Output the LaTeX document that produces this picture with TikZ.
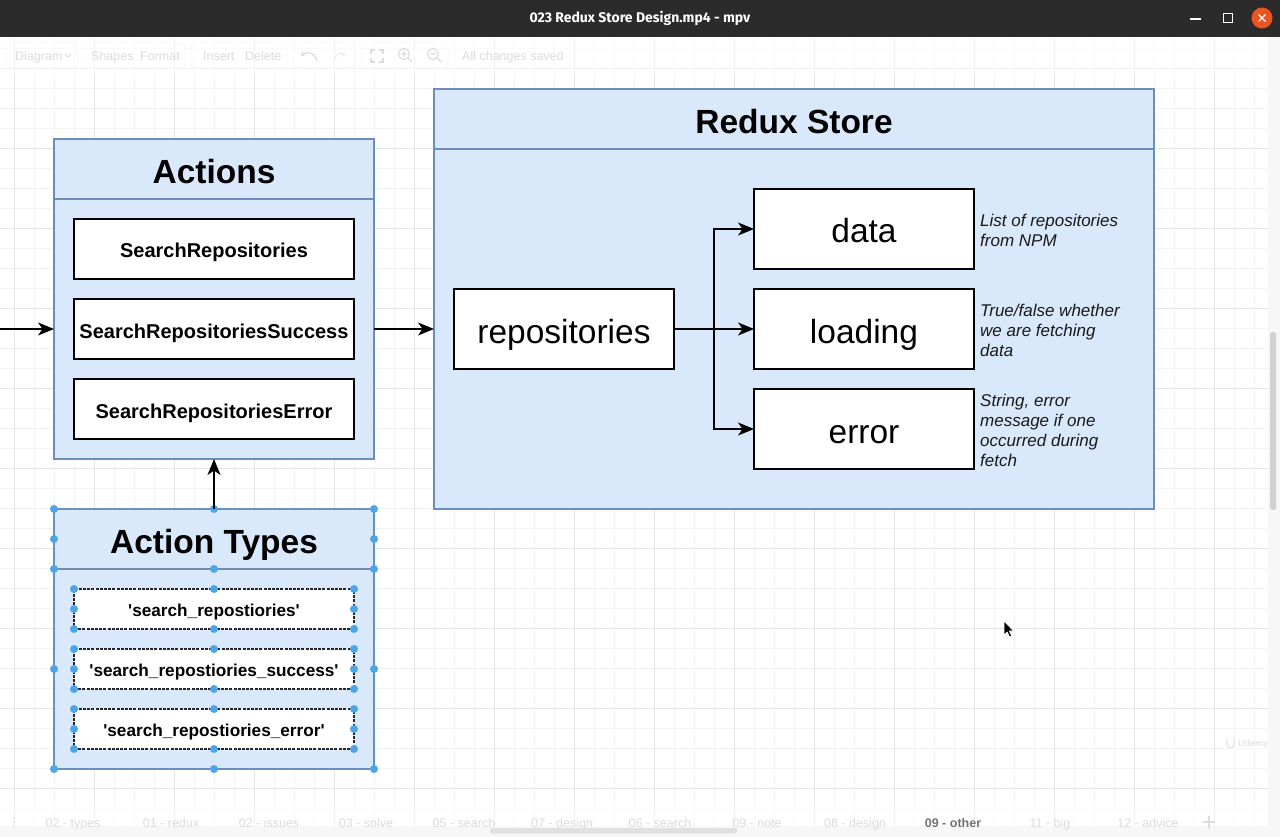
\documentclass[tikz,border=0pt]{standalone}
\usepackage{fontspec}
\setmainfont{Liberation Sans}
\newfontfamily\uifont{Fira Sans}
\usetikzlibrary{arrows.meta}

\definecolor{boxfill}{HTML}{DAE8FC}
\definecolor{boxline}{HTML}{6C8EBF}
\definecolor{handle}{HTML}{4BA5E8}
\definecolor{gridminor}{HTML}{F3F3F3}
\definecolor{gridmajor}{HTML}{E4E4E4}
\definecolor{barbg}{HTML}{2B2B2B}
\definecolor{closebtn}{HTML}{E95420}
\definecolor{uitext}{HTML}{DCDCDC}
\definecolor{uiline}{HTML}{EEEEEE}

\begin{document}
\begin{tikzpicture}[x=1pt,y=-1pt,
  container/.style={draw=boxline, fill=boxfill, line width=1.5pt, inner sep=0pt, outer sep=0pt, anchor=north west},
  itembox/.style={draw=black, fill=white, line width=1.8pt, inner sep=0pt, outer sep=0pt, text depth=0pt},
  actionbox/.style={itembox, minimum width=280, minimum height=60, text height=18pt,
    font=\fontsize{20}{24}\selectfont\bfseries},
  typebox/.style={itembox, draw=black!85, dash pattern=on 3pt off 1.2pt, line width=1.5pt,
    minimum width=280, minimum height=40, text height=15.5pt, font=\fontsize{17.2}{20}\selectfont\bfseries},
  statebox/.style={itembox, minimum width=220, minimum height=80, text height=28pt,
    font=\fontsize{33.5}{40}\selectfont},
  heading/.style={anchor=base, inner sep=0pt, font=\fontsize{33.5}{40}\selectfont\bfseries},
  note/.style={anchor=base west, inner sep=0pt, font=\fontsize{17}{20}\selectfont\itshape, text=black!90},
  flow/.style={line width=1.8pt, -{Stealth[length=16pt,width=13pt,inset=4.5pt]}},
  handledot/.style={fill=handle, draw=none},
  uilabel/.style={inner sep=0pt, anchor=base west, text=uitext, font=\fontsize{12.5}{15}\selectfont},
  tablabel/.style={inner sep=0pt, anchor=base, text=uitext, font=\fontsize{12.5}{15}\selectfont},
  uiicon/.style={draw=uitext, line width=1.2pt}
]
\useasboundingbox (0,0) rectangle (1280,837);

% canvas and grid
\fill[white] (0,37) rectangle (1280,837);
\foreach \k in {0,...,63}
  \draw[gridminor, line width=0.9pt] ({14.7+20*\k},37) -- ({14.7+20*\k},837);
\foreach \k in {0,...,39}
  \draw[gridminor, line width=0.9pt] (0,{48+20*\k}) -- (1280,{48+20*\k});
\foreach \k in {0,...,15}
  \draw[gridmajor, line width=0.9pt] ({14.7+80*\k},37) -- ({14.7+80*\k},837);
\foreach \k in {0,...,9}
  \draw[gridmajor, line width=0.9pt] (0,{68+80*\k}) -- (1280,{68+80*\k});

% faded editor toolbar
\fill[white, opacity=0.55] (0,37) rectangle (1268,76);
\draw[uiline, rounded corners=4pt] (7,43) rectangle (77,68);
\draw[uiline, rounded corners=4pt] (83,43) rectangle (185,68);
\draw[uiline, rounded corners=4pt] (191,43) rectangle (287,68);
\draw[uiline, rounded corners=4pt] (293,43) rectangle (355,68);
\draw[uiline, rounded corners=4pt] (361,43) rectangle (448,68);
\node[uilabel] (tbDiagram) at (15,60.5) {Diagram};
\draw[uiicon, line width=0.9pt] (65,54) -- (68,57) -- (71,54);
\node[uilabel] (tbShapes) at (91,60.5) {Shapes};
\node[uilabel] (tbFormat) at (140,60.5) {Format};
\node[uilabel] (tbInsert) at (203,60.5) {Insert};
\node[uilabel] (tbDelete) at (245,60.5) {Delete};
\draw[uiicon, -{Stealth[length=4pt,width=5pt]}] (317,61) .. controls (315,52) and (307,51) .. (301,56);
\draw[uiicon, draw=uiline, -{Stealth[length=4pt,width=5pt]}] (334,61) .. controls (336,53) and (341,52) .. (345,56);
\draw[uiicon] (371,54) -- (371,50) -- (375,50) (379,50) -- (383,50) -- (383,54)
  (383,58) -- (383,62) -- (379,62) (375,62) -- (371,62) -- (371,58);
\draw[uiicon] (404,54) circle (5.5) (408,58) -- (412,62) (401,54) -- (407,54) (404,51) -- (404,57);
\draw[uiicon] (433,54) circle (5.5) (437,58) -- (441,62) (430,54) -- (436,54);
\node[uilabel] (tbSaved) at (462,61) {All changes saved};

% faded page tabs
\fill[white, opacity=0.55] (0,805) rectangle (1268,837);
\fill[black!4, opacity=0.8] (0,826) rectangle (1268,837);
\fill[uitext] (14,818) circle (1) (14,822) circle (1) (14,826) circle (1);
\node[tablabel] (tab1) at (73,827.5) {02 - types};
\node[tablabel] (tab2) at (171,827.5) {01 - redux};
\node[tablabel] (tab3) at (269,827.5) {02 - issues};
\node[tablabel] (tab4) at (366,827.5) {03 - solve};
\node[tablabel] (tab5) at (464,827.5) {05 - search};
\node[tablabel] (tab6) at (562,827.5) {07 - design};
\node[tablabel] (tab7) at (660,827.5) {06 - search};
\node[tablabel] (tab8) at (757,827.5) {09 - note};
\node[tablabel] (tab9) at (855,827.5) {08 - design};
\node[tablabel, text=black!55, font=\fontsize{12.5}{15}\selectfont\bfseries] (tab10) at (953,827.5) {09 - other};
\node[tablabel] (tab11) at (1050,827.5) {11 - big};
\node[tablabel] (tab12) at (1148,827.5) {12 - advice};
\draw[uiicon, line width=1.4pt] (1203,822) -- (1215,822) (1209,816) -- (1209,828);
\fill[black!12, rounded corners=2.5pt] (490,828) rectangle (737,833.5);

% right scroll strip
\fill[black!3] (1268,37) rectangle (1280,837);
\fill[black!18, rounded corners=2.5pt] (1270,332) rectangle (1276,510);

% player title bar
\fill[barbg] (0,0) rectangle (1280,37);
\node[text=white, inner sep=0pt, font=\uifont\fontsize{14}{16}\selectfont\bfseries] (wintitle) at (640,18.5) {023 Redux Store Design.mp4 - mpv};
\draw[white, line width=1.3pt] (1190,19) -- (1201,19);
\draw[white, line width=1.3pt] (1223.5,13.5) rectangle (1232.5,22.5);
\fill[closebtn] (1262,18) circle (10.5);
\draw[white, line width=1.3pt] (1258.5,14.5) -- (1265.5,21.5) (1258.5,21.5) -- (1265.5,14.5);

% Actions container
\node[container, minimum width=320, minimum height=320] (actions) at (54,139) {};
\draw[boxline, line width=1.5pt] (54,199) -- (374,199);
\node[heading] (actionsTitle) at (214,183.5) {Actions};
\node[actionbox] (sr)  at (214,249) {SearchRepositories};
\node[actionbox] (srs) at (214,329) {SearchRepositoriesSuccess};
\node[actionbox] (sre) at (214,409) {SearchRepositoriesError};

% Action Types container (selected)
\node[container, minimum width=320, minimum height=260] (types) at (54,509) {};
\draw[boxline!80!gray, line width=1.5pt] (54,569) -- (374,569);
\draw[handle!70!gray, line width=0.8pt, dash pattern=on 3pt off 2pt] (54,509) rectangle (374,769);
\node[heading] (typesTitle) at (214,553.5) {Action Types};
\node[typebox] (t1) at (214,609) {\textquotesingle search\_repostiories\textquotesingle};
\node[typebox] (t2) at (214,669) {\textquotesingle search\_repostiories\_success\textquotesingle};
\node[typebox] (t3) at (214,729) {\textquotesingle search\_repostiories\_error\textquotesingle};
\foreach \p in {(54,509),(214,509),(374,509),(54,539),(374,539),(54,569),(214,569),(374,569),
                (54,669),(374,669),(54,769),(214,769),(374,769)}
  \fill[handledot] \p circle (4);
\foreach \yt/\yb in {589/629,649/689,709/749}
  \foreach \px/\py in {74/\yt,214/\yt,354/\yt,74/{(\yt+\yb)/2},354/{(\yt+\yb)/2},74/\yb,214/\yb,354/\yb}
    \fill[handledot] (\px,{\py}) circle (4);

% Redux Store container
\node[container, minimum width=720, minimum height=420] (store) at (434,89) {};
\draw[boxline, line width=1.5pt] (434,149) -- (1154,149);
\node[heading] (storeTitle) at (794,133.5) {Redux Store};
\node[statebox] (repo)    at (564,329) {repositories};
\node[statebox] (data)    at (864,229) {data};
\node[statebox] (loading) at (864,329) {loading};
\node[statebox] (err)     at (864,429) {error};

% field notes
\node[note] (n1a) at (980,226.5) {List of repositories};
\node[note] (n1b) at (980,246.5) {from NPM};
\node[note] (n2a) at (980,316.5) {True/false whether};
\node[note] (n2b) at (980,336.5) {we are fetching};
\node[note] (n2c) at (980,356.5) {data};
\node[note] (n3a) at (980,406.5) {String, error};
\node[note] (n3b) at (980,426.5) {message if one};
\node[note] (n3c) at (980,446.5) {occurred during};
\node[note] (n3d) at (980,466.5) {fetch};

% connectors
\coordinate (incoming) at (0,329);
\draw[flow] (incoming) -- (incoming -| actions.west);
\draw[flow] (srs.east -| actions.east) -- (srs.east -| store.west);
\draw[flow] (types.north) -- (actions.south);
\draw[flow] (repo.east) -- (loading.west);
\draw[flow] (repo.east) -- ++(40,0) |- (data.west);
\draw[flow] (repo.east) -- ++(40,0) |- (err.west);

% watermark
\draw[black!10, line width=1.4pt] (1227,738) -- (1227,744) .. controls (1227,749) and (1234,749) .. (1234,744) -- (1234,738);
\node[inner sep=0pt, text=black!10, font=\fontsize{9}{10}\selectfont\bfseries, anchor=west] (wm) at (1238,744) {Udemy};

% mouse pointer
\filldraw[fill=black, draw=white, line width=0.6pt]
  (1004,621) -- (1004,635) -- (1007.2,632) -- (1009.6,637) -- (1011.6,636) -- (1009.3,631) -- (1013.5,631) -- cycle;
\end{tikzpicture}
\end{document}
